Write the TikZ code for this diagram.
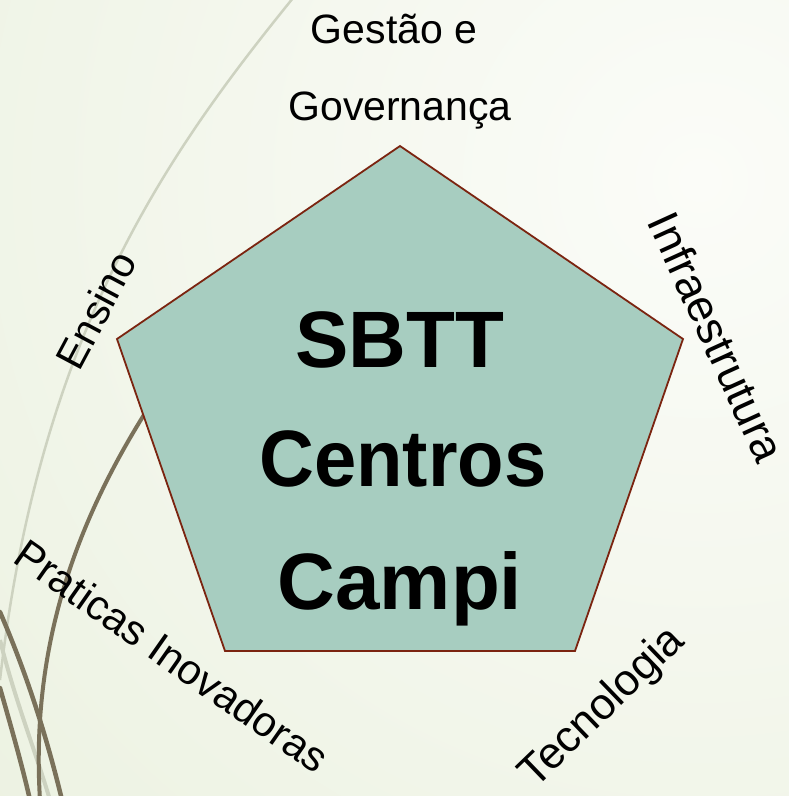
\documentclass[tikz,border=0pt]{standalone}
\usepackage{fontspec}
\setmainfont{Liberation Sans}
\definecolor{bgin}{RGB}{251,252,248}
\definecolor{bgout}{RGB}{222,232,204}
\definecolor{pentfill}{RGB}{167,205,192}
\definecolor{pentline}{RGB}{123,36,16}
\definecolor{stemdark}{RGB}{122,113,90}
\definecolor{stemlight}{RGB}{205,210,192}
\tikzset{
  lbl/.style={font=\fontsize{41}{49}\selectfont, inner sep=0pt, text=black},
  big/.style={font=\fontsize{80}{96}\selectfont\bfseries, inner sep=0pt, text=black, anchor=base},
  stem/.style={draw=stemdark, line width=4.5pt, line cap=round},
  stemlt/.style={draw=stemlight, line width=2.5pt},
}
\begin{document}
\begin{tikzpicture}[x=1pt,y=-1pt]
\useasboundingbox (0,0) rectangle (789,796);
% background
\begin{scope}
  \clip (0,0) rectangle (789,796);
  \shade[inner color=bgin, outer color=bgout] (700,180) circle (1900);
  % decorative stems
  \draw[stemlt] (293,-2) .. controls (170,150) and (40,330) .. (0,680);
  \draw[draw=stemlight, line width=4pt] (0,640) .. controls (15,700) and (35,750) .. (50,800);
  \draw[stem] (0,612) .. controls (25,670) and (45,730) .. (62,800);
  \draw[stem] (0,688) .. controls (12,730) and (22,765) .. (30,800);
  \draw[stem, line width=4pt] (160,390) .. controls (80,510) and (30,640) .. (40,800);
\end{scope}
% pentagon
\coordinate (pt) at (400,146);
\coordinate (pr) at (683,339);
\coordinate (pbr) at (575,651);
\coordinate (pbl) at (225,651);
\coordinate (pl) at (117,339);
\draw[fill=pentfill, draw=pentline, line width=1.8pt, line join=miter]
  (pt) -- (pr) -- (pbr) -- (pbl) -- (pl) -- cycle;
% center text
\node[big] (sbtt) at (400,367) {SBTT};
\node[big, xscale=0.95] (centros) at (403,486) {Centros};
\node[big] (campi) at (400,609) {Campi};
% labels
\node[lbl, anchor=base] (gest1) at (394,43) {Gestão e};
\node[lbl, anchor=base] (gest2) at (400,120) {Governança};
\node[lbl, rotate=62] (ensino) at (96,310) {Ensino};
\node[lbl, rotate=-65.5, font=\fontsize{45}{54}\selectfont] (infra) at (717,337) {Infraestrutura};
\node[lbl, rotate=-35, font=\fontsize{42}{50}\selectfont] (prat) at (172,656) {Praticas Inovadoras};
\node[lbl, rotate=44, font=\fontsize{44}{53}\selectfont] (tec) at (603,708) {Tecnologia};
\end{tikzpicture}
\end{document}
